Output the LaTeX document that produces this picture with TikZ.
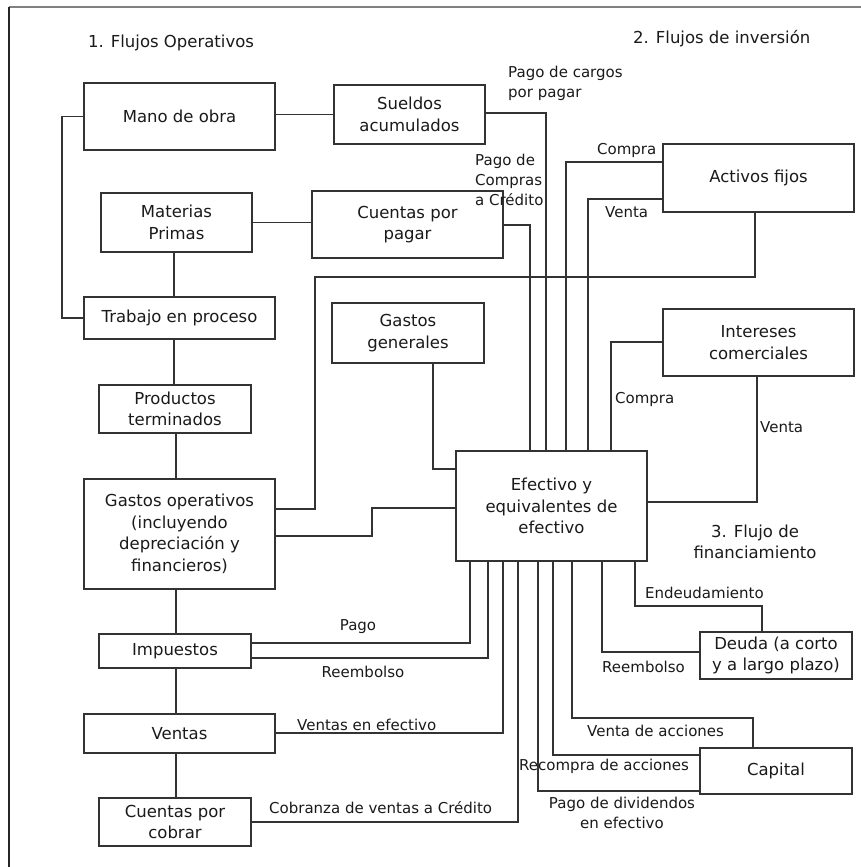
\documentclass[tikz,border=0pt]{standalone}
\usepackage{fontspec}
\setmainfont{DejaVu Sans}
\definecolor{linecol}{HTML}{333333}
\definecolor{txtcol}{HTML}{1A1A1A}
\newcommand\boxfont{\fontsize{16.5}{21.5}\selectfont}
\newcommand\lblfont{\fontsize{15}{20}\selectfont}
\begin{document}
\begin{tikzpicture}[x=1pt,y=-1pt,
  box/.style={draw=linecol, line width=1.9pt, inner sep=0pt, align=center,
    font=\boxfont, text=txtcol},
  lbl/.style={inner sep=0pt, font=\lblfont, text=txtcol},
  head/.style={inner sep=0pt, font=\boxfont, text=txtcol},
  flow/.style={draw=linecol, line width=1.9pt},
]
\useasboundingbox (0,0) rectangle (861,867);
\fill[white] (0,0) rectangle (861,867);

% outer frame (top and left edges)
\draw[line width=1.6pt, gray] (9,7) -- (861,7);
\draw[line width=1.6pt, black!85] (9,7) -- (9,867);

% section headings
\node[head, anchor=west] (h1) at (88,43) {1. Flujos Operativos};
\node[head, anchor=west] (h2) at (633,39) {2. Flujos de inversión};
\node[head, align=center] (h3) at (755,542) {3. Flujo de\\financiamiento};

% accounts
\node[box, minimum width=191pt, minimum height=67pt] (mano) at (179.5,116.5) {Mano de obra};
\node[box, minimum width=151pt, minimum height=59pt] (sueldos) at (409.5,114.5) {Sueldos\\acumulados};
\node[box, minimum width=151pt, minimum height=59pt] (materias) at (176.5,222.5) {Materias\\Primas};
\node[box, minimum width=191pt, minimum height=67pt] (cpagar) at (407.5,224.5) {Cuentas por\\pagar};
\node[box, minimum width=191pt, minimum height=42pt] (trabajo) at (179.5,318) {Trabajo en proceso};
\node[box, minimum width=152pt, minimum height=48pt] (productos) at (175,409) {Productos\\terminados};
\node[box, minimum width=191pt, minimum height=110pt] (gop) at (179.5,534) {Gastos operativos\\(incluyendo\\depreciación y\\financieros)};
\node[box, minimum width=152pt, minimum height=60pt] (ggen) at (408,333) {Gastos\\generales};
\node[box, minimum width=191pt, minimum height=110pt] (efectivo) at (551.5,506) {Efectivo y\\equivalentes de\\efectivo};
\node[box, minimum width=191pt, minimum height=68pt] (activos) at (758.5,178) {Activos fijos};
\node[box, minimum width=191pt, minimum height=67pt] (intereses) at (758.5,342.5) {Intereses\\comerciales};
\node[box, minimum width=152pt, minimum height=34pt] (impuestos) at (175,651) {Impuestos};
\node[box, minimum width=191pt, minimum height=39pt] (ventas) at (179.5,733.5) {Ventas};
\node[box, minimum width=152pt, minimum height=48pt] (ccobrar) at (175,822) {Cuentas por\\cobrar};
\node[box, minimum width=152pt, minimum height=47pt] (deuda) at (776,655.5) {Deuda (a corto\\y a largo plazo)};
\node[box, minimum width=152pt, minimum height=46pt] (capital) at (776,771) {Capital};

% operating chain
\draw[flow] (sueldos.west) -- (sueldos.west -| mano.east);
\draw[flow] (mano.west) -- ++(-21,0) |- (trabajo.west);
\draw[flow] (materias.east) -- (materias.east -| cpagar.west);
\draw[flow] (materias.south -| 174,0) -- (trabajo.north -| 174,0);
\draw[flow] (trabajo.south -| 174,0) -- (productos.north -| 174,0);
\draw[flow] (productos.south -| 176,0) -- (gop.north -| 176,0);
\draw[flow] (gop.south -| 176,0) -- (impuestos.north -| 176,0);
\draw[flow] (impuestos.south -| 176,0) -- (ventas.north -| 176,0);
\draw[flow] (ventas.south -| 176,0) -- (ccobrar.north -| 176,0);

% links into cash from above
\draw[flow] (gop.east |- 0,509) -| (315,277) -| (activos.south -| 755,0);
\draw[flow] (gop.east |- 0,536) -| (372,508) -- (efectivo.west |- 0,508);
\draw[flow] (ggen.south -| 433,0) |- (efectivo.west |- 0,469);
\draw[flow] (sueldos.east |- 0,113) -| (efectivo.north -| 546,0);
\draw[flow] (cpagar.east |- 0,225) -| (efectivo.north -| 530,0);
\draw[flow] (activos.west |- 0,162) -| (efectivo.north -| 566,0);
\draw[flow] (activos.west |- 0,199) -| (efectivo.north -| 588,0);
\draw[flow] (intereses.west |- 0,342) -| (efectivo.north -| 611,0);
\draw[flow] (intereses.south -| 757,0) |- (efectivo.east |- 0,502);

% links out of cash below
\draw[flow] (impuestos.east |- 0,643) -| (efectivo.south -| 470,0);
\draw[flow] (impuestos.east |- 0,658) -| (efectivo.south -| 488,0);
\draw[flow] (ventas.east |- 0,733) -| (efectivo.south -| 503,0);
\draw[flow] (ccobrar.east |- 0,822) -| (efectivo.south -| 518,0);
\draw[flow] (capital.west |- 0,791) -| (efectivo.south -| 538,0);
\draw[flow] (capital.west |- 0,755) -| (efectivo.south -| 553,0);
\draw[flow] (efectivo.south -| 572,0) |- (753,718) -- (capital.north -| 753,0);
\draw[flow] (deuda.west |- 0,652) -| (efectivo.south -| 602,0);
\draw[flow] (efectivo.south -| 635,0) |- (762,606) -- (deuda.north -| 762,0);

% flow labels
\node[lbl, anchor=west, align=left] (lcargos) at (508,83) {Pago de cargos\\por pagar};
\node[lbl, anchor=west, align=left] (lcredito) at (475,180) {Pago de\\Compras\\a Crédito};
\node[lbl, anchor=west] (lcompra1) at (597,150) {Compra};
\node[lbl, anchor=west] (lventa1) at (605,212) {Venta};
\node[lbl, anchor=west] (lcompra2) at (615,399) {Compra};
\node[lbl, anchor=west] (lventa2) at (760,427) {Venta};
\node[lbl] (lpago) at (358,627) {Pago};
\node[lbl] (lreemb1) at (363,672) {Reembolso};
\node[lbl, anchor=west] (lvefec) at (297,725) {Ventas en efectivo};
\node[lbl, anchor=west] (lcobr) at (269,808) {Cobranza de ventas a Crédito};
\node[lbl, anchor=west] (lendeu) at (645,593) {Endeudamiento};
\node[lbl, anchor=west] (lreemb2) at (602,667) {Reembolso};
\node[lbl, anchor=west] (lvacc) at (587,731) {Venta de acciones};
\node[lbl, anchor=west] (lrecomp) at (519,766) {Recompra de acciones};
\node[lbl, align=center] (ldiv) at (622,813) {Pago de dividendos\\en efectivo};
\end{tikzpicture}
\end{document}
